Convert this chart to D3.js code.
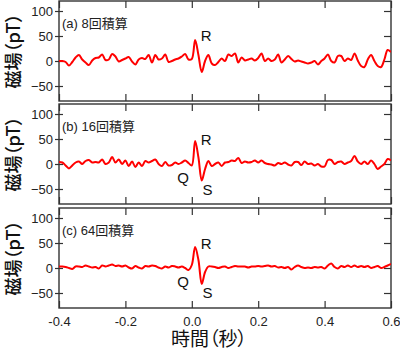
<!DOCTYPE html>
<html><head><meta charset="utf-8">
<script src="https://cdn.jsdelivr.net/npm/d3@7"></script>
<style>
body{margin:0;background:#fff}
text{font-family:"Liberation Sans","Noto Sans CJK JP",sans-serif}
.cjk{font-family:"Noto Sans CJK JP",sans-serif;font-feature-settings:"palt"}
</style>
</head><body><svg id="c" width="400" height="350"></svg>
<script>
// sample times (s), 10 ms steps from -0.4 to 0.6
const times = d3.range(101).map(i => +(-0.4 + i * 0.01).toFixed(2));
const xTicks = [-0.4, -0.2, 0, 0.2, 0.4, 0.6];
const yTicks = [-50, 0, 50, 100];
const panelLabels = ["(a) 8回積算", "(b) 16回積算", "(c) 64回積算"];
const yTitle = "磁場（pT）";
const xTitle = "時間（秒）";

// magnetic field (pT)
const field8 = [
  0, 0, -2, -9, -2, 7, 12, 3, -3, -8,
  1, 6, 7, 13, 2, 3, 14, 9, -1, 2,
  5, 8, -1, -7, 3, 6, 4, 12, -3, 12,
  3, 5, 13, -2, 0, 3, 5, 9, 14, 3,
  4, 42, 12, -22, 0, 12, -5, -8, -2, 5,
  0, 13, 10, 15, -3, 7, 1, 3, 5, 1,
  6, 15, 0, 5, 0, 3, 13, -3, 3, 10,
  4, -1, 1, -1, -3, -5, -3, 0, -7, 0,
  5, 13, 0, -3, 10, 10, 0, 5, 2, 15,
  1, -10, -12, 3, 12, 0, -10, -12, 3, 22, 18
];
const field16 = [
  4, 3, -3, -9, -3, 3, 5, 0, 6, 8,
  3, 4, 3, 9, 0, 3, 14, 3, 9, 0,
  7, -4, 5, -6, 3, -4, 6, 3, 6, 9,
  0, -4, 4, -3, -2, 3, 0, 3, 7, 2,
  -3, 46, 13, -33, -10, 6, -4, 0, 3, -4,
  3, 4, 7, 6, 12, 2, 5, 3, 4, 7,
  3, 7, 2, 0, -1, -3, 2, 0, 3, -1,
  -3, 4, 4, -2, 5, 0, 1, -3, 0, -5,
  -5, 8, 8, 0, 4, 5, 0, 3, 6, 16,
  5, 0, 5, 0, 7, 0, -10, -5, 0, 10, 7
];
const field64 = [
  3, 3, 2, 0, -2, 3, 3, 2, 5, 3,
  1, 2, -1, 5, 3, 5, 7, 4, 5, 3,
  5, 1, -1, 4, 1, -1, 4, 3, 5, 4,
  1, -1, 3, 1, 4, 3, 1, 3, 0, -4,
  6, 42, 16, -32, -8, 3, 3, 2, 0, 2,
  3, 0, 2, 4, 3, 3, 3, 1, 3, 3,
  4, 3, 4, 5, 3, 4, 1, 2, 0, 2,
  -3, 2, 5, 2, 0, 1, 0, 2, 1, 2,
  -1, 5, 9, 2, -1, 4, 2, 5, 2, 5,
  2, 4, 2, 4, 0, 2, 4, 0, 2, 5, 8
];
const series = [field8, field16, field64];

// wave annotations: [label, time, field]
const annotations = [
  [["R", 0.043, 40]],
  [["R", 0.043, 38], ["Q", -0.026, -38], ["S", 0.047, -62]],
  [["R", 0.043, 38], ["Q", -0.026, -38], ["S", 0.047, -60]]
];

const svg = d3.select("#c");
const x = d3.scaleLinear().domain([-0.4, 0.6]).range([59, 391]);
const tops = [1, 104, 208];
const PH = 100;
const fmt = d => d === 0 ? "0.0" : d.toFixed(1);
const frameColor = "#333";

tops.forEach((top, p) => {
  const y = d3.scaleLinear().domain([-80, 120]).range([top + PH, top]);
  const g = svg.append("g");

  g.append("clipPath").attr("id", "clip" + p)
    .append("rect").attr("x", x.range()[0]).attr("y", top)
    .attr("width", x.range()[1] - x.range()[0]).attr("height", PH);

  const styleAxis = sel => {
    sel.select(".domain").remove();
    sel.selectAll("line").attr("stroke", frameColor).attr("stroke-width", 1.2);
    sel.selectAll("text").attr("fill", "#222").style("font-size", "13px")
      .style("font-family", '"Liberation Sans", Arial, sans-serif');
  };

  g.append("g").attr("transform", `translate(${x.range()[0]},0)`)
    .call(d3.axisLeft(y).tickValues(yTicks).tickSize(4).tickPadding(2).tickFormat(d3.format("d")))
    .call(styleAxis);
  g.append("g").attr("transform", `translate(${x.range()[0]},0)`)
    .call(d3.axisRight(y).tickValues(yTicks).tickSize(4).tickFormat(""))
    .call(styleAxis);
  g.append("g").attr("transform", `translate(${x.range()[1]},0)`)
    .call(d3.axisLeft(y).tickValues(yTicks).tickSize(7).tickFormat(""))
    .call(styleAxis);
  g.append("g").attr("transform", `translate(0,${top})`)
    .call(d3.axisBottom(x).tickValues(xTicks).tickSize(7).tickFormat(""))
    .call(styleAxis);
  g.append("g").attr("transform", `translate(0,${top + PH})`)
    .call(d3.axisTop(x).tickValues(xTicks).tickSize(7).tickFormat(""))
    .call(styleAxis);
  if (p === 2) {
    g.append("g").attr("transform", `translate(0,${top + PH})`)
      .call(d3.axisBottom(x).tickValues(xTicks).tickSize(0).tickPadding(9).tickFormat(fmt))
      .call(styleAxis);
  }

  g.append("rect").attr("x", x.range()[0]).attr("y", top)
    .attr("width", x.range()[1] - x.range()[0]).attr("height", PH)
    .attr("fill", "none").attr("stroke", frameColor).attr("stroke-width", 1.4);

  const line = d3.line().x((d, i) => x(times[i])).y(d => y(d))
    .curve(d3.curveCatmullRom.alpha(0.5));
  g.append("path").datum(series[p])
    .attr("clip-path", `url(#clip${p})`)
    .attr("d", line).attr("fill", "none")
    .attr("stroke", "#ff0000").attr("stroke-width", 2)
    .attr("stroke-linejoin", "round");

  g.append("text").attr("x", 62).attr("y", top + 27)
    .attr("fill", "#222").style("font-size", "13px").text(panelLabels[p]);

  annotations[p].forEach(([t, tx, v]) => {
    g.append("text").attr("x", x(tx)).attr("y", y(v))
      .attr("text-anchor", "middle").attr("fill", "#111")
      .style("font-size", "15px").text(t);
  });

  g.append("text").attr("class", "cjk")
    .attr("transform", `translate(12,${top + PH / 2}) rotate(-90)`)
    .attr("text-anchor", "middle").attr("dominant-baseline", "central")
    .attr("fill", "#111").style("font-size", "18px").style("font-weight", "500").text(yTitle);
});

svg.append("text").attr("class", "cjk")
  .attr("x", 209).attr("y", 346).attr("text-anchor", "middle")
  .attr("fill", "#111").style("font-size", "19px").text(xTitle);
</script>
</body></html>
